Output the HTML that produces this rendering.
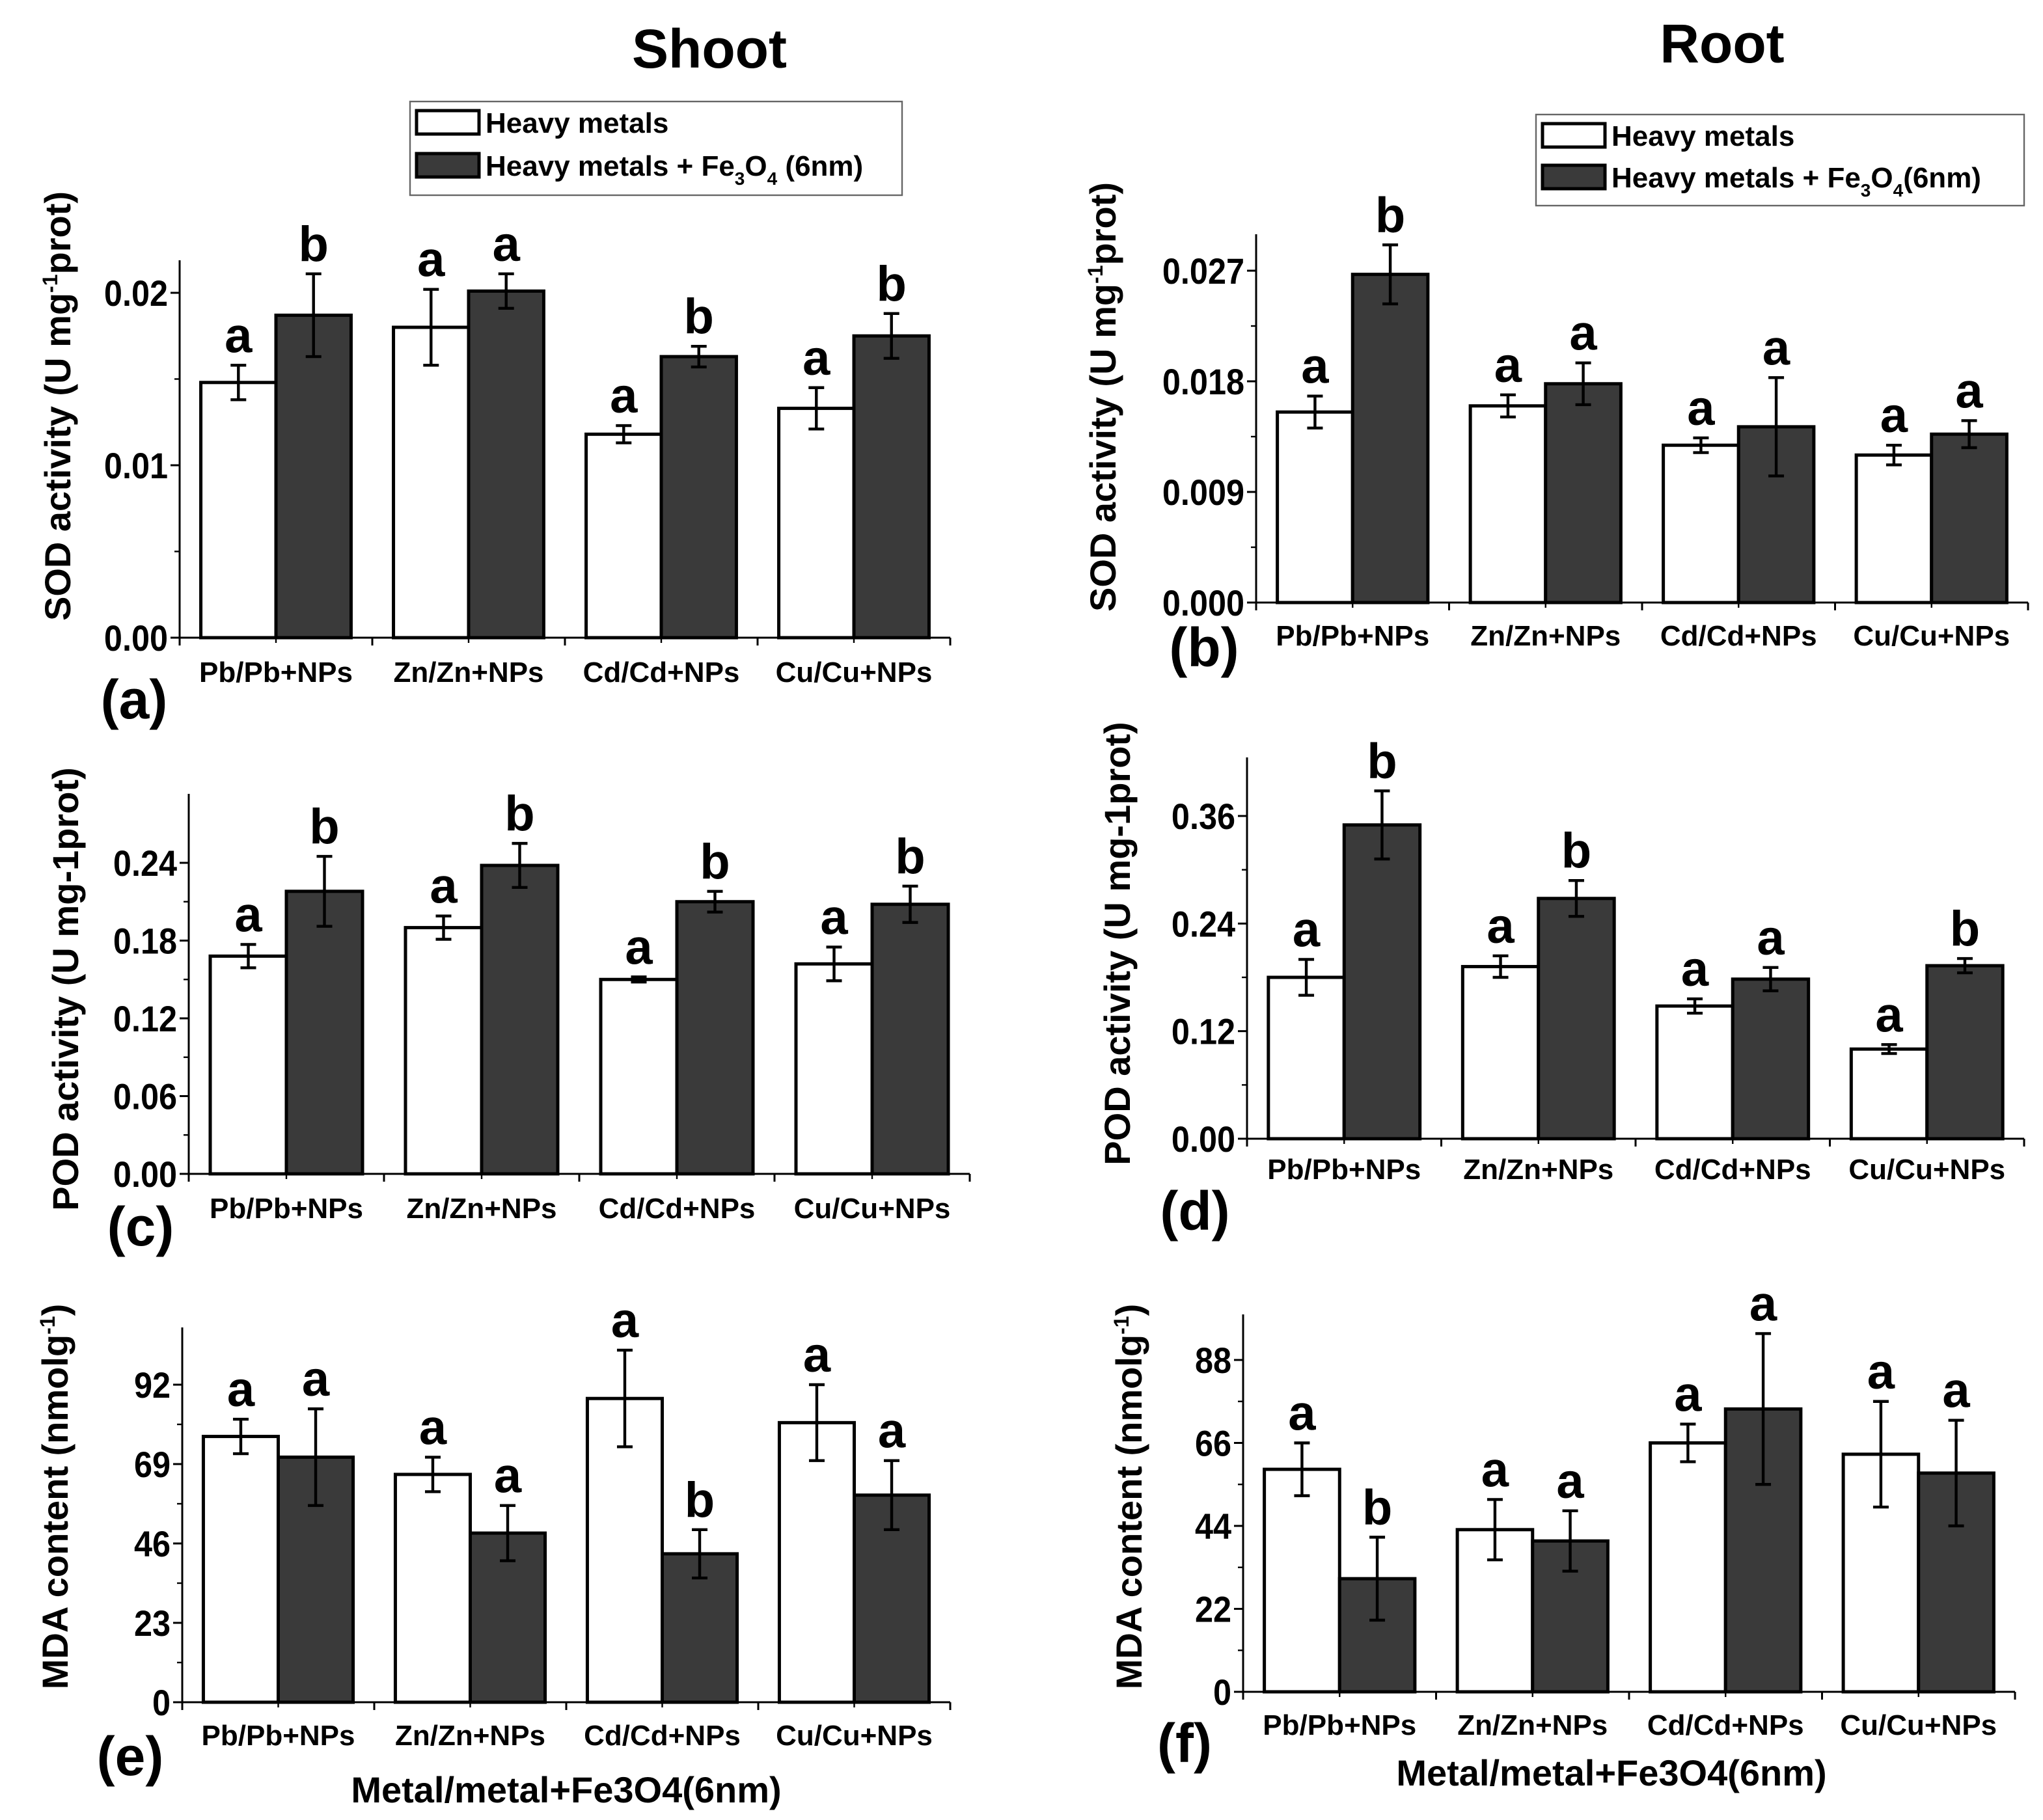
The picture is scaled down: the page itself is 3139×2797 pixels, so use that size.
<!DOCTYPE html>
<html><head><meta charset="utf-8"><style>
html,body{margin:0;padding:0;background:#fff}
svg{display:block}
text{font-family:"Liberation Sans",Arial,sans-serif;font-weight:bold;fill:#000}
</style></head><body>
<svg id="fig" width="3139" height="2797" viewBox="0 0 1569.5 1398.5" xmlns="http://www.w3.org/2000/svg">
<rect width="1569.5" height="1398.5" fill="#fff"/>
<text x="545" y="52" font-size="42" text-anchor="middle">Shoot</text>
<text x="1323" y="48" font-size="42" text-anchor="middle">Root</text>
<g>
<rect x="315" y="78" width="378" height="72" fill="#fff" stroke="#666" stroke-width="1.2"/>
<rect x="320" y="85" width="48" height="18" fill="#fff" stroke="#000" stroke-width="2.5"/>
<text x="373" y="102" font-size="22">Heavy metals</text>
<rect x="320" y="118" width="48" height="18" fill="#3a3a3a" stroke="#000" stroke-width="2.5"/>
<text x="373" y="135" font-size="22">Heavy metals + Fe<tspan font-size="14" dy="7">3</tspan><tspan dy="-7">O</tspan><tspan font-size="14" dy="7">4</tspan><tspan dy="-7"> (6nm)</tspan></text>
</g>
<g>
<rect x="1180" y="88" width="375" height="70" fill="#fff" stroke="#666" stroke-width="1.2"/>
<rect x="1185" y="95" width="48" height="18" fill="#fff" stroke="#000" stroke-width="2.5"/>
<text x="1238" y="112" font-size="22">Heavy metals</text>
<rect x="1185" y="127" width="48" height="18" fill="#3a3a3a" stroke="#000" stroke-width="2.5"/>
<text x="1238" y="144" font-size="22">Heavy metals + Fe<tspan font-size="14" dy="7">3</tspan><tspan dy="-7">O</tspan><tspan font-size="14" dy="7">4</tspan><tspan dy="-7">(6nm)</tspan></text>
</g>
<text x="435" y="1385" font-size="28" text-anchor="middle">Metal/metal+Fe3O4(6nm)</text>
<text x="1238" y="1372" font-size="28" text-anchor="middle">Metal/metal+Fe3O4(6nm)</text>
</svg>
<script>
const categories = ["Pb/Pb+NPs","Zn/Zn+NPs","Cd/Cd+NPs","Cu/Cu+NPs"];
// Panel a
const aWhite = [0.0148,0.0180,0.0118,0.0133];
const aDark = [0.0187,0.0201,0.0163,0.0175];
const aWhiteErr = [0.0010,0.0022,0.0005,0.0012];
const aDarkErr = [0.0024,0.0010,0.0006,0.0013];
const aTicks = [0,0.01,0.02];
const aTickLabels = ["0.00","0.01","0.02"];
const aLetters = [["a","b"],["a","a"],["a","b"],["a","b"]];
// Panel b
const bWhite = [0.0155,0.0160,0.0128,0.0120];
const bDark = [0.0267,0.0178,0.0143,0.0137];
const bWhiteErr = [0.0013,0.0009,0.0006,0.0008];
const bDarkErr = [0.0024,0.0017,0.0040,0.0011];
const bTicks = [0,0.009,0.018,0.027];
const bTickLabels = ["0.000","0.009","0.018","0.027"];
const bLetters = [["a","b"],["a","a"],["a","a"],["a","a"]];
// Panel c
const cWhite = [0.168,0.190,0.150,0.162];
const cDark = [0.218,0.238,0.210,0.208];
const cWhiteErr = [0.009,0.009,0.002,0.013];
const cDarkErr = [0.027,0.017,0.008,0.014];
const cTicks = [0,0.06,0.12,0.18,0.24];
const cTickLabels = ["0.00","0.06","0.12","0.18","0.24"];
const cLetters = [["a","b"],["a","b"],["a","b"],["a","b"]];
// Panel d
const dWhite = [0.180,0.192,0.148,0.100];
const dDark = [0.350,0.268,0.178,0.193];
const dWhiteErr = [0.020,0.012,0.008,0.005];
const dDarkErr = [0.038,0.020,0.013,0.008];
const dTicks = [0,0.12,0.24,0.36];
const dTickLabels = ["0.00","0.12","0.24","0.36"];
const dLetters = [["a","b"],["a","b"],["a","a"],["a","b"]];
// Panel e
const eWhite = [77,66,88,81];
const eDark = [71,49,43,60];
const eWhiteErr = [5,5,14,11];
const eDarkErr = [14,8,7,10];
const eTicks = [0,23,46,69,92];
const eTickLabels = ["0","23","46","69","92"];
const eLetters = [["a","a"],["a","a"],["a","b"],["a","a"]];
// Panel f
const fWhite = [59,43,66,63];
const fDark = [30,40,75,58];
const fWhiteErr = [7,8,5,14];
const fDarkErr = [11,8,20,14];
const fTicks = [0,22,44,66,88];
const fTickLabels = ["0","22","44","66","88"];
const fLetters = [["a","b"],["a","a"],["a","a"],["a","a"]];

const NS="http://www.w3.org/2000/svg";
const svg=document.getElementById('fig');
function mk(tag,attrs,parent){const e=document.createElementNS(NS,tag);for(const k in attrs)e.setAttribute(k,attrs[k]);(parent||svg).appendChild(e);return e;}

function panel(id,cfg,white,dark,wErr,dErr,ticks,tickLabels,letters){
  const g=mk('g',{});
  
  
  const {x0,x1,y0,yTop,vmax,pxMax,title,labelX,labelY,xlabY,tagX,tagY}=cfg;
  const yScale=v=>y0-(v/vmax)*(y0-pxMax);
  const groupW=(x1-x0)/4;
  const xCenter=i=>x0+groupW*(i+0.5);
  const barW=groupW*0.39;
  for(let i=0;i<4;i++){
    const cx=xCenter(i);
    [[white,wErr,'#fff',-1,'white'],[dark,dErr,'#3a3a3a',0,'dark']].forEach(([vals,errs,fill,off,nm],k)=>{
      const bx=cx+off*barW, v=vals[i], yv=yScale(v);
      const r=mk('rect',{x:bx,y:yv,width:barW,height:y0-yv,fill:fill,stroke:'#000','stroke-width':2.5},g);
      
      
      const ex=bx+barW/2, yh=yScale(v+errs[i]), yl=yScale(v-errs[i]);
      const eb=mk('path',{d:`M${ex},${yh}V${yl}M${ex-6},${yh}H${ex+6}M${ex-6},${yl}H${ex+6}`,stroke:'#000','stroke-width':2.2,fill:'none'},g);
      
      
      const t=mk('text',{x:ex,y:yh-10,'font-size':38,'text-anchor':'middle'},g);
      t.textContent=letters[i][k];
      
      
    });
    const xl=mk('text',{x:cx,y:xlabY,'font-size':22,'text-anchor':'middle'},g);
    xl.textContent=categories[i];
    
    
  }
  const ax=mk('path',{d:`M${x0},${yTop}V${y0}H${x1}`,stroke:'#000','stroke-width':1.5,fill:'none'},g);
  
  
  for(let i=0;i<=4;i++){
    mk('line',{x1:x0+groupW*i,x2:x0+groupW*i,y1:y0,y2:y0+6,stroke:'#000','stroke-width':1.5},g);
    if(i<4) mk('line',{x1:xCenter(i),x2:xCenter(i),y1:y0,y2:y0+4,stroke:'#000','stroke-width':1.2},g);
  }
  ticks.forEach((v,j)=>{
    const y=yScale(v);
    mk('line',{x1:x0-7,x2:x0,y1:y,y2:y,stroke:'#000','stroke-width':1.5},g);
    if(j<ticks.length-1){const ym=yScale((v+ticks[j+1])/2);mk('line',{x1:x0-4,x2:x0,y1:ym,y2:ym,stroke:'#000','stroke-width':1.2},g);}
    const t=mk('text',{x:0,y:0,'font-size':28,'text-anchor':'end',transform:`translate(${x0-9},${y+10}) scale(0.9,1)`},g);
    t.textContent=tickLabels[j];
    
    
  });
  const yt=mk('text',{x:0,y:0,'font-size':28,'text-anchor':'middle',transform:`translate(${labelX},${labelY}) rotate(-90)`},g);
  yt.innerHTML=title;
  
  
  const tag=mk('text',{x:tagX,y:tagY,'font-size':42,'font-weight':'normal','text-anchor':'middle'},g);
  tag.textContent='('+id+')';
  
  
}
const sodT='SOD activity (U mg<tspan font-size="16" dy="-10">-1</tspan><tspan dy="10">prot)</tspan>';
const mdaT='MDA content (nmolg<tspan font-size="16" dy="-10">-1</tspan><tspan dy="10">)</tspan>';
panel('a',{x0:138,x1:730,y0:490,yTop:200,vmax:0.02,pxMax:225,title:sodT,labelX:54,labelY:312,xlabY:524,tagX:103,tagY:552},aWhite,aDark,aWhiteErr,aDarkErr,aTicks,aTickLabels,aLetters);
panel('b',{x0:965,x1:1558,y0:463,yTop:180,vmax:0.027,pxMax:208,title:sodT,labelX:857,labelY:305,xlabY:496,tagX:925,tagY:512},bWhite,bDark,bWhiteErr,bDarkErr,bTicks,bTickLabels,bLetters);
panel('c',{x0:145,x1:745,y0:902,yTop:610,vmax:0.24,pxMax:663,title:'POD activity (U mg-1prot)',labelX:60,labelY:760,xlabY:936,tagX:108,tagY:957},cWhite,cDark,cWhiteErr,cDarkErr,cTicks,cTickLabels,cLetters);
panel('d',{x0:958,x1:1555,y0:875,yTop:582,vmax:0.36,pxMax:627,title:'POD activity (U mg-1prot)',labelX:868,labelY:725,xlabY:906,tagX:918,tagY:945},dWhite,dDark,dWhiteErr,dDarkErr,dTicks,dTickLabels,dLetters);
panel('e',{x0:140,x1:730,y0:1308,yTop:1020,vmax:92,pxMax:1064,title:mdaT,labelX:52,labelY:1150,xlabY:1341,tagX:100,tagY:1364},eWhite,eDark,eWhiteErr,eDarkErr,eTicks,eTickLabels,eLetters);
panel('f',{x0:955,x1:1548,y0:1300,yTop:1010,vmax:88,pxMax:1045,title:mdaT,labelX:877,labelY:1150,xlabY:1333,tagX:910,tagY:1354},fWhite,fDark,fWhiteErr,fDarkErr,fTicks,fTickLabels,fLetters);
</script>
</body></html>
